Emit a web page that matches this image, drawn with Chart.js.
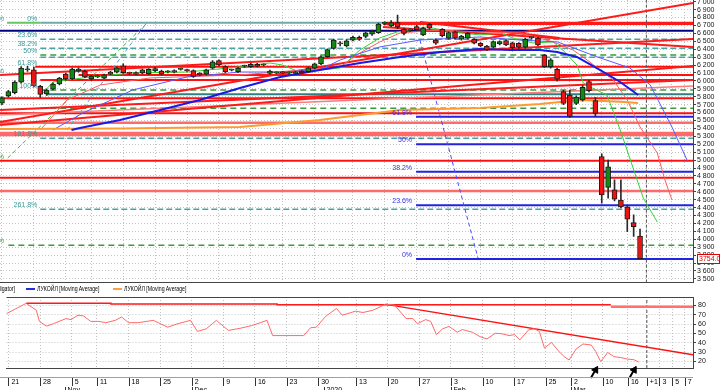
<!DOCTYPE html>
<html>
<head>
<meta charset="utf-8">
<script src="https://cdn.jsdelivr.net/npm/chart.js@4.4.1/dist/chart.umd.min.js"></script>
<style>
 html,body{margin:0;padding:0;background:#fff;}
 body{width:720px;height:390px;position:relative;overflow:hidden;font-family:"Liberation Sans",Arial,sans-serif;}
 #mainBox{position:absolute;left:0;top:0;width:720px;height:284px;}
 #oscBox{position:absolute;left:0;top:290px;width:720px;height:100px;}
 #legend{position:absolute;left:0;top:283px;width:693px;height:13px;font-size:6.5px;color:#000;overflow:hidden;}
 #legend span{position:absolute;top:2px;white-space:nowrap;line-height:8px;transform:scaleX(0.8);transform-origin:left center;}
 #legend span.r{transform-origin:right center;}
 #legend i{position:absolute;top:5px;width:9px;height:2px;}
</style>
</head>
<body>
<div id="mainBox"><canvas id="main"></canvas></div>
<div id="legend">
 <span class="r" style="right:678px">ЛУКОЙЛ [Alligator]</span>
 <i style="left:26px;background:#2a2ae0"></i><span style="left:37px">ЛУКОЙЛ [Moving Average]</span>
 <i style="left:113px;background:#ffa040"></i><span style="left:124px">ЛУКОЙЛ [Moving Average]</span>
</div>
<div id="oscBox"><canvas id="osc"></canvas></div>
<script>
const FONT = '"Liberation Sans", Arial, sans-serif';
const X_MIN = -0.31, X_MAX = 108.3;
const Y_MIN = 3452, Y_MAX = 7021;
const OSC_MIN = 13, OSC_MAX = 89;

// ---------- axis labels ----------
const tickIdx = [0,5,10,14,19,24,29,34,39,44,49,55,60,65,70,75,80,85,89,94,98,101,103,105,107];
const tickLbl = ['21','28','5','11','18','25','2','9','16','23','30','13','20','27','3','10','17','25','2','10','16','+1','3','5','7'];
const monthIdx = [9,29,50,70,89];
const monthLbl = ['Nov','Dec','2020','Feb','Mar'];
const nowIdx = 101;

// ---------- candles (21 Oct 2019 .. 18 Mar 2020) ----------
const open = [5720,5810,5850,5985,6150,6140,5930,5835,5895,5960, 6085,6025,6125,6125,6025,6050,6035,6085,6110,6190,
 6100,6085,6100,6090,6125,6125,6115,6110,6145,6140, 6130,6095,6085,6160,6255,6180,6135,6115,6185,6180,
 6210,6200,6095,6100,6110,6098,6095,6120,6115,6160, 6215,6305,6410,6480,6440,6515,6550,6560,6590,6610,
 6725,6695,6735,6650,6640,6685,6580,6715,6515,6650, 6540,6620,6525,6540,6525,6475,6440,6425,6465,6510,
 6480,6475,6425,6545,6540,6325,6180,6145,5865,5820, 5715,5760,5990,5750,5045,4655,4625,4495,4410,4210, 4040];
const close = [5785,5865,5985,6160,6140,5935,5830,5885,5960,6035, 6025,6150,6150,6050,6060,6056,6075,6110,6165,6105,
 6095,6105,6140,6145,6155,6085,6118,6130,6148,6130, 6055,6075,6140,6240,6200,6115,6140,6160,6188,6210,
 6185,6205,6125,6105,6100,6102,6110,6105,6165,6215, 6305,6395,6515,6465,6505,6550,6525,6605,6625,6718,
 6728,6735,6678,6600,6645,6645,6665,6665,6475,6570, 6610,6540,6565,6600,6475,6440,6390,6495,6495,6455,
 6420,6425,6525,6548,6455,6180,6265,6020,5715,5550, 5795,5920,5875,5590,4560,4915,4505,4410,4255,4160, 3754];
const high = [5800,5880,6000,6180,6185,6175,5945,5895,5975,6045, 6095,6160,6165,6135,6070,6070,6085,6120,6175,6215,
 6110,6115,6150,6155,6170,6135,6130,6140,6160,6150, 6140,6105,6150,6255,6265,6190,6150,6170,6200,6220,
 6220,6215,6135,6115,6120,6115,6120,6130,6175,6225, 6315,6405,6525,6495,6520,6565,6565,6615,6640,6730,
 6745,6760,6830,6665,6660,6700,6680,6725,6530,6660, 6620,6630,6575,6610,6535,6485,6450,6505,6505,6520,
 6490,6485,6540,6560,6550,6335,6280,6160,5880,5885, 5810,5940,6005,5790,5080,5000,4750,4750,4420,4310, 4130];
const low = [5700,5795,5835,5975,6120,5925,5790,5815,5885,5950, 6010,6015,6110,6040,6010,6040,6025,6075,6100,6095,
 6080,6075,6090,6080,6115,6075,6100,6100,6135,6120, 6045,6065,6075,6150,6190,6105,6125,6105,6170,6170,
 6175,6190,6085,6090,6090,6085,6085,6095,6105,6150, 6205,6295,6400,6440,6430,6505,6510,6545,6575,6600,
 6705,6685,6660,6580,6625,6630,6570,6650,6460,6555, 6525,6530,6515,6530,6465,6430,6380,6415,6455,6445,
 6390,6410,6410,6530,6445,6170,6160,5995,5700,5540, 5700,5745,5860,5550,4455,4520,4485,4395,4095,4035, 3754];
const lastPrice = 3754.0;

// ---------- moving averages ----------
const maBlueIdx = [10.9,12.2,18.5,24.8,31.0,37.3,43.6,49.8,56.1,62.4,68.7,74.9,79.6,84.3,87.0,90.1,93.7,96.9,99.7];
const maBlueVal = [5380,5405,5506,5633,5759,5910,6049,6138,6226,6302,6365,6403,6390,6390,6365,6302,6138,5986,5822];
const maOrangeIdx = [-0.3,18.5,37.3,49.8,62.4,74.9,84.3,90.6,96.9,99.7];
const maOrangeVal = [5393,5399,5418,5506,5633,5658,5708,5759,5737,5721];

// ---------- alligator ----------
const jawIdx = [8.0,12.7,20.5,29.0,37.3,43.6,49.8,53.0,59.2,65.5,74.9,81.2,87.1,93.3,98.4,101.6,105.0,107.5];
const jawVal = [5380,5595,5885,6049,6112,6112,6138,6264,6428,6516,6554,6516,6491,6302,6163,5948,5418,4976];
const teethIdx = [6.0,10.2,15.4,23.2,37.3,53.0,56.1,59.2,62.4,68.7,74.9,81.2,86.4,89.5,91.7,95.8,98.0,100.0,102.7,103.9,105.0];
const teethVal = [5380,5759,5948,6037,6075,6176,6352,6491,6605,6643,6617,6605,6491,6390,6264,6011,5759,5418,5090,4749,4496];
const lipsIdx = [6.4,8.0,10.2,13.8,20.5,29.0,37.3,42.0,43.9,46.7,53.0,56.1,59.2,61.9,66.6,70.7,74.9,78.1,80.1,83.2,86.4,87.9,90.1,91.1,92.2,94.8,96.9,100.5,102.7];
const lipsVal = [5847,5986,6011,6049,6100,6112,6176,6226,6201,6112,6163,6390,6542,6617,6681,6617,6580,6605,6542,6479,6491,6390,6201,5974,5923,5822,5380,4522,4218];

// ---------- horizontal levels ----------
const navyLevels = [6634];
const topRedLevels = [6735, 6718];
const topRedFrom = 59.7;
const redLevels = [6179, 6075, 6011, 5780, 5591, 4993, 4778];
const redFrom   = [5.2, 12, 6, -1, -1, -1, -1];
const pinkLevels = [5472, 5342, 5317, 4610];
const tealDashLevels = [6525, 6412, 6298, 5275, 4379];
const greenDashLevels = [6327, 5885, 5654, 3924];
const greenDashFrom = [6, 6, 6, 1];
const tealSolidLevels = [5831];
const fibZero = 6735;
const fibLeftStart = 6;
const fibLeftVal = [6735, 6525, 6412, 6327, 6179, 5885, 5275, 4379];
const fibLeftLbl = ['0%','23.6%','38.2%','50%','61.8%','100%','161.8%','261.8%'];
const fibRightStart = 64.9;
const fibRightVal = [5548, 5200, 4854, 4429, 3751];
const fibRightLbl = ['61.8%','50%','38.2%','23.6%','0%'];
const edgePctVal = [6735, 6075, 4993, 3924];

// ---------- trend lines ----------
const redTrendX0 = [-0.3,-0.3,-0.3,-0.3,59.7,65.5];
const redTrendY0 = [5481,6075,5443,5633,6681,6744];
const redTrendX1 = [108.3,108.3,108.3,108.3,108.3,87.4];
const redTrendY1 = [6984,6529,6188,6011,6428,6542];
const pinkTrendX = [-0.3,108.3], pinkTrendY = [5570,5936];
const greenFanX = [0.9,22.9], greenFanY = [5027,6744];
const tealFanX = [10.2,22.7], tealFanY = [5380,6735];
const blueDashX = [65.5,74.6], blueDashY = [6516,3764];

// ---------- oscillator ----------
const oscIdx = [-0.3,2.8,4.4,4.9,6.0,7.1,9.1,9.9,11.0,11.9,13.0,14.3,15.4,16.9,17.9,19.0,20.5,22.9,25.2,26.8,28.8,29.9,31.3,32.9,34.8,36.8,38.6,40.9,41.8,46.7,47.8,48.7,50.2,51.9,52.8,54.9,56.1,57.7,59.7,61.1,62.9,64.0,64.7,66.0,66.8,67.7,68.7,69.7,71.0,71.8,73.4,74.6,75.7,77.0,78.1,79.2,80.1,80.9,82.3,83.2,84.0,84.8,85.9,87.0,87.9,88.7,89.8,90.9,92.2,92.9,93.7,94.8,95.8,96.9,98.0,98.9,99.7];
const oscVal = [71.3,82.2,74.9,62.9,57.8,60.4,65.9,64.8,69.5,68.7,62.9,62.9,61.5,64.0,67.6,61.5,61.5,64.0,56.7,60.4,64.0,52.1,55.0,64.0,53.2,55.7,58.6,64.0,47.7,47.7,56.1,56.7,68.4,76.7,69.5,73.8,72.4,74.9,81.4,80.3,65.9,65.9,60.4,64.8,62.9,48.8,55.0,57.5,51.3,54.2,51.3,46.6,44.1,50.2,49.6,47.7,48.8,43.0,53.9,55.0,52.1,34.3,40.4,31.4,25.2,21.6,33.3,38.7,37.6,30.7,19.8,29.6,25.2,24.1,22.4,22.0,19.5];
const oscTopIdx = [2.8,16.2,16.2,42.5,42.5,95.3];
const oscTopVal = [82.2,82.2,81.4,81.4,80.6,80.6];
const oscTop2Idx = [95.3,110], oscTop2Val = [78.6,78.6];
const oscTrendIdx = [59.7,108.3], oscTrendVal = [81.1,27.3];
const arrowIdx = [92.9, 99.0], arrowVal = [11, 11];
const arrowTailIdx = [92.5, 98.6], arrowTailVal = [6.6, 6.6];

// ---------- helpers ----------
const fmt = v => String(Math.round(v)).replace(/\B(?=(\d{3})+(?!\d))/g, ' ');
function seg(x0,y0,x1,y1,color,width,dash,order){
  return {type:'line', data:[{x:x0,y:y0},{x:x1,y:y1}], borderColor:color, borderWidth:width,
    borderDash:dash||[], pointRadius:0, fill:false, tension:0, order:order||6};
}
function series(xs,ys,color,width,order,dash){
  return {type:'line', data:xs.map((v,i)=>({x:v,y:ys[i]})), borderColor:color, borderWidth:width,
    borderDash:dash||[], pointRadius:0, fill:false, tension:0, order:order||3};
}
const END = 110;
function noPadV(s, w){ s.width = w; s.paddingTop = 0; s.paddingBottom = 0; }
function noPadH(s, h){ s.height = h; s.paddingLeft = 0; s.paddingRight = 0; }

// ---------- main datasets ----------
const mainDs = [];
mainDs.push({type:'bar', label:'body', data:open.map((o,i)=>({x:i,y:[o,close[i]]})),
  backgroundColor:open.map((o,i)=>close[i]>=o?'#118a11':'#f01212'), borderColor:'#1c1c1c', borderWidth:1,
  borderSkipped:false, barThickness:5, maxBarThickness:5, minBarLength:1, grouped:false, order:0});
mainDs.push({type:'bar', label:'wick', data:low.map((l,i)=>({x:i,y:[l,high[i]]})),
  backgroundColor:'#2a2a2a', borderWidth:0, barThickness:1, maxBarThickness:1, grouped:false, order:1});
mainDs.push(series(maBlueIdx, maBlueVal, '#1a1ae6', 2, 2));
mainDs.push(series(maOrangeIdx, maOrangeVal, '#ff9a30', 2, 2));
mainDs.push(series(jawIdx, jawVal, '#5a5aff', 1, 3));
mainDs.push(series(teethIdx, teethVal, '#ff5a5a', 1, 3));
mainDs.push(series(lipsIdx, lipsVal, '#35d035', 1, 3));
navyLevels.forEach(p=>mainDs.push(seg(-1,p,END,p,'#000080',2,null,7)));
topRedLevels.forEach(p=>mainDs.push(seg(topRedFrom,p,END,p,'#ff1a1a',2,null,7)));
mainDs.push(seg(fibLeftStart,fibZero,topRedFrom,fibZero,'#6fa9a9',2,null,7));
mainDs.push(seg(0.8,fibZero,fibLeftStart,fibZero,'#66c466',2,null,7));
redLevels.forEach((p,k)=>mainDs.push(seg(redFrom[k],p,END,p,'#ff1010',2,null,7)));
pinkLevels.forEach(p=>mainDs.push(seg(-1,p,END,p,'#ff6a6a',2.5,null,7)));
tealDashLevels.forEach(p=>mainDs.push(seg(fibLeftStart,p,END,p,'#4aa3a3',1.5,[6,3],8)));
greenDashLevels.forEach((p,k)=>mainDs.push(seg(greenDashFrom[k],p,END,p,'#3c9c3c',1.5,[6,4],8)));
tealSolidLevels.forEach(p=>mainDs.push(seg(7,p,END,p,'#2f8080',2,null,7)));
fibRightVal.forEach(p=>mainDs.push(seg(fibRightStart,p,END,p,'#2323e0',2,null,7)));
redTrendX0.forEach((x0,k)=>mainDs.push(seg(x0,redTrendY0[k],redTrendX1[k],redTrendY1[k],'#ff1a1a',2,null,6)));
mainDs.push(seg(pinkTrendX[0],pinkTrendY[0],pinkTrendX[1],pinkTrendY[1],'#ff7a7a',1.5,null,6));
mainDs.push(seg(greenFanX[0],greenFanY[0],greenFanX[1],greenFanY[1],'#3cb43c',1,[4,3],6));
mainDs.push(seg(tealFanX[0],tealFanY[0],tealFanX[1],tealFanY[1],'#4aa3c3',1,[4,3],6));
mainDs.push(seg(blueDashX[0],blueDashY[0],blueDashX[1],blueDashY[1],'#4a4aff',1,[4,3],6));
mainDs.push(seg(nowIdx,Y_MIN,nowIdx,Y_MAX,'#555',1,[3,2],6));

const mainLabels = {
  id:'mainLabels',
  afterDatasetsDraw(chart){
    const {ctx, scales:{x,y}} = chart;
    ctx.save();
    ctx.font = '7px ' + FONT;
    ctx.textAlign = 'right';
    ctx.textBaseline = 'alphabetic';
    ctx.fillStyle = '#3a9898';
    fibLeftVal.forEach((p,k)=>ctx.fillText(fibLeftLbl[k], x.getPixelForValue(fibLeftStart)-3, y.getPixelForValue(p)-2));
    edgePctVal.forEach((p,k)=>{ ctx.fillStyle = k < 2 ? '#3a9898' : '#3c9c3c'; ctx.fillText('%', x.getPixelForValue(X_MIN)+4, y.getPixelForValue(p)-2); });
    ctx.fillStyle = '#3434e6';
    fibRightVal.forEach((p,k)=>ctx.fillText(fibRightLbl[k], x.getPixelForValue(fibRightStart)-4, y.getPixelForValue(p)-2));
    ctx.restore();
  },
  afterDraw(chart){
    const {ctx, scales:{y}, chartArea:a} = chart;
    const py = Math.round(y.getPixelForValue(lastPrice));
    ctx.save();
    ctx.fillStyle = '#fff';
    ctx.fillRect(a.right+4, py-5, 23, 10);
    ctx.strokeStyle = '#e00000'; ctx.lineWidth = 1;
    ctx.strokeRect(a.right+4.5, py-4.5, 22, 9);
    ctx.fillStyle = '#e00000'; ctx.font = '7px ' + FONT;
    ctx.textAlign = 'left'; ctx.textBaseline = 'middle';
    ctx.fillText(lastPrice.toFixed(1), a.right+6, py+0.5);
    ctx.restore();
  }
};

new Chart(document.getElementById('main'), {
  type:'bar',
  data:{datasets:mainDs},
  options:{
    responsive:true, maintainAspectRatio:false, animation:false, events:[],
    layout:{padding:0},
    plugins:{legend:{display:false}, tooltip:{enabled:false}},
    scales:{
      x:{type:'linear', min:X_MIN, max:X_MAX, offset:false,
        afterBuildTicks:s=>{s.ticks = tickIdx.map(v=>({value:v}));},
        afterFit:s=>noPadH(s, 1.3),
        ticks:{display:false},
        grid:{color:'#c0c0c0', drawTicks:false, offset:false},
        border:{display:true, color:'#444', dash:[1,2]}},
      y:{type:'linear', position:'right', min:Y_MIN, max:Y_MAX,
        afterFit:s=>noPadV(s, 27),
        ticks:{stepSize:100, includeBounds:false, autoSkip:false, font:{size:7, family:FONT}, color:'#111', padding:1, callback:v=>fmt(v)},
        grid:{color:'#c6c6c6', tickLength:3, tickColor:'#444', tickBorderDash:[]},
        border:{display:true, color:'#444', dash:[1,2]}}
    }
  },
  plugins:[mainLabels]
});

// ---------- oscillator ----------
const oscDs = [];
oscDs.push(series(oscIdx, oscVal, '#ff6a6a', 1, 1));
oscDs.push(series(oscTopIdx, oscTopVal, '#ff1a1a', 1.5, 2));
oscDs.push(series(oscTop2Idx, oscTop2Val, '#ff7070', 2.5, 2));
oscDs.push(series(oscTrendIdx, oscTrendVal, '#ff1010', 1.5, 2));
oscDs.push(seg(nowIdx, OSC_MIN, nowIdx, OSC_MAX, '#555', 1, [3,2], 3));
oscDs.push({type:'line', data:arrowIdx.map((v,i)=>({x:v,y:arrowVal[i]})), showLine:false, pointStyle:'triangle',
  pointRadius:4, pointRotation:30, backgroundColor:'#000', borderColor:'#000', clip:false, order:0});
oscDs.push({type:'line', data:arrowTailIdx.map((v,i)=>({x:v,y:arrowTailVal[i]})), showLine:false, pointStyle:'line',
  pointRadius:4.5, pointRotation:-60, borderColor:'#000', pointBorderWidth:2, clip:false, order:0});

const oscDecor = {
  id:'oscDecor',
  afterDraw(chart){
    const {ctx, chartArea:a, scales:{x}} = chart;
    ctx.save();
    ctx.strokeStyle = '#444'; ctx.lineWidth = 1;
    ctx.beginPath(); ctx.moveTo(a.left, a.top+0.5); ctx.lineTo(a.right, a.top+0.5); ctx.stroke();
    const yTop = a.bottom + 9;
    ctx.strokeStyle = '#a0a0a0';
    ctx.beginPath(); ctx.moveTo(0, yTop+0.5); ctx.lineTo(a.right, yTop+0.5); ctx.stroke();
    ctx.strokeStyle = '#333';
    tickIdx.forEach(v=>{
      const px = Math.round(x.getPixelForValue(v)) + 0.5;
      ctx.beginPath(); ctx.moveTo(px, yTop+1); ctx.lineTo(px, yTop+9); ctx.stroke();
    });
    ctx.fillStyle = '#000'; ctx.font = '7px ' + FONT;
    ctx.textAlign = 'left'; ctx.textBaseline = 'top';
    monthIdx.forEach((v,k)=>{
      const px = Math.round(x.getPixelForValue(v)) + 0.5;
      ctx.beginPath(); ctx.moveTo(px, yTop+10); ctx.lineTo(px, yTop+14); ctx.stroke();
      ctx.fillText(monthLbl[k], px+2, yTop+10);
    });
    ctx.restore();
  }
};

new Chart(document.getElementById('osc'), {
  type:'line',
  data:{datasets:oscDs},
  options:{
    responsive:true, maintainAspectRatio:false, animation:false, events:[],
    layout:{padding:{top:7, left:0, right:0, bottom:0}},
    plugins:{legend:{display:false}, tooltip:{enabled:false}},
    scales:{
      x:{type:'linear', min:X_MIN, max:X_MAX, offset:false,
        afterBuildTicks:s=>{s.ticks = tickIdx.map(v=>({value:v}));},
        afterFit:s=>noPadH(s, 22),
        ticks:{autoSkip:false, maxRotation:0, minRotation:0, align:'start', labelOffset:3, padding:10,
          font:{size:7, family:FONT}, color:'#000', callback:v=>tickLbl[tickIdx.indexOf(v)]},
        grid:{color:'#c0c0c0', drawTicks:false},
        border:{display:true, color:'#444', dash:[1,2]}},
      y:{type:'linear', position:'right', min:OSC_MIN, max:OSC_MAX,
        afterFit:s=>noPadV(s, 27),
        ticks:{stepSize:10, includeBounds:false, autoSkip:false, font:{size:7, family:FONT}, color:'#111', padding:2},
        grid:{color:'#c6c6c6', tickLength:3, tickColor:'#444', tickBorderDash:[]},
        border:{display:true, color:'#444', dash:[1,2]}}
    }
  },
  plugins:[oscDecor]
});
</script>
</body>
</html>
